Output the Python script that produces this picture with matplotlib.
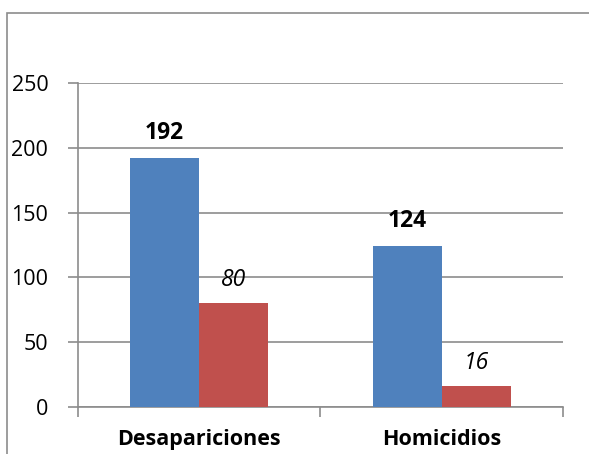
import matplotlib.pyplot as plt
from matplotlib.patches import Rectangle

categories = ["Desapariciones", "Homicidios"]
serie_a = [192, 124]
serie_b = [80, 16]

plt.rcParams['font.family'] = ['Open Sans', 'DejaVu Sans']

fig = plt.figure(figsize=(5.89, 4.54), dpi=100)
ax = fig.add_axes([77.5/589, 47/454, 485.5/589, 324/454])

# outer chart frame (runs off the right and bottom edge)
fig.patches.append(Rectangle((7/589, -0.1), 1.2, (454-13)/454 + 0.1,
                             transform=fig.transFigure, fill=False,
                             edgecolor="#8c8c8c", linewidth=1.2))

w = 0.284
x = range(len(categories))
bars_a = ax.bar([i - w/2 for i in x], serie_a, w, color="#4F81BD", zorder=3)
bars_b = ax.bar([i + w/2 for i in x], serie_b, w, color="#C0504D", zorder=3)

for b, v in zip(bars_a, serie_a):
    ax.text(b.get_x() + b.get_width()/2, v + 10, str(v), ha="center", va="bottom",
            fontsize=16.5, fontweight="bold")
for b, v in zip(bars_b, serie_b):
    ax.text(b.get_x() + b.get_width()/2, v + 9, str(v), ha="center", va="bottom",
            fontsize=16.5, fontstyle="italic")

ax.set_xlim(-0.5, 1.5)
ax.set_ylim(0, 250)
ax.set_yticks([0, 50, 100, 150, 200, 250])
ax.yaxis.grid(True, color="#8c8c8c", linewidth=1.2, zorder=0)
ax.tick_params(axis="y", labelsize=15.5, length=7, color="#8c8c8c", width=1.2, pad=14)

ax.set_xticks([-0.5, 0.5, 1.5])
ax.set_xticklabels([])
ax.set_xticks([0, 1], minor=True)
ax.set_xticklabels(categories, minor=True, fontsize=15.5, fontweight="bold")
ax.tick_params(axis="x", which="major", length=7, color="#8c8c8c", width=1.2)
ax.tick_params(axis="x", which="minor", length=0, pad=16)

for s in ["top", "right"]:
    ax.spines[s].set_visible(False)
for s in ["left", "bottom"]:
    ax.spines[s].set_color("#8c8c8c")
    ax.spines[s].set_linewidth(1.2)

fig.savefig("out.png", dpi=100)
